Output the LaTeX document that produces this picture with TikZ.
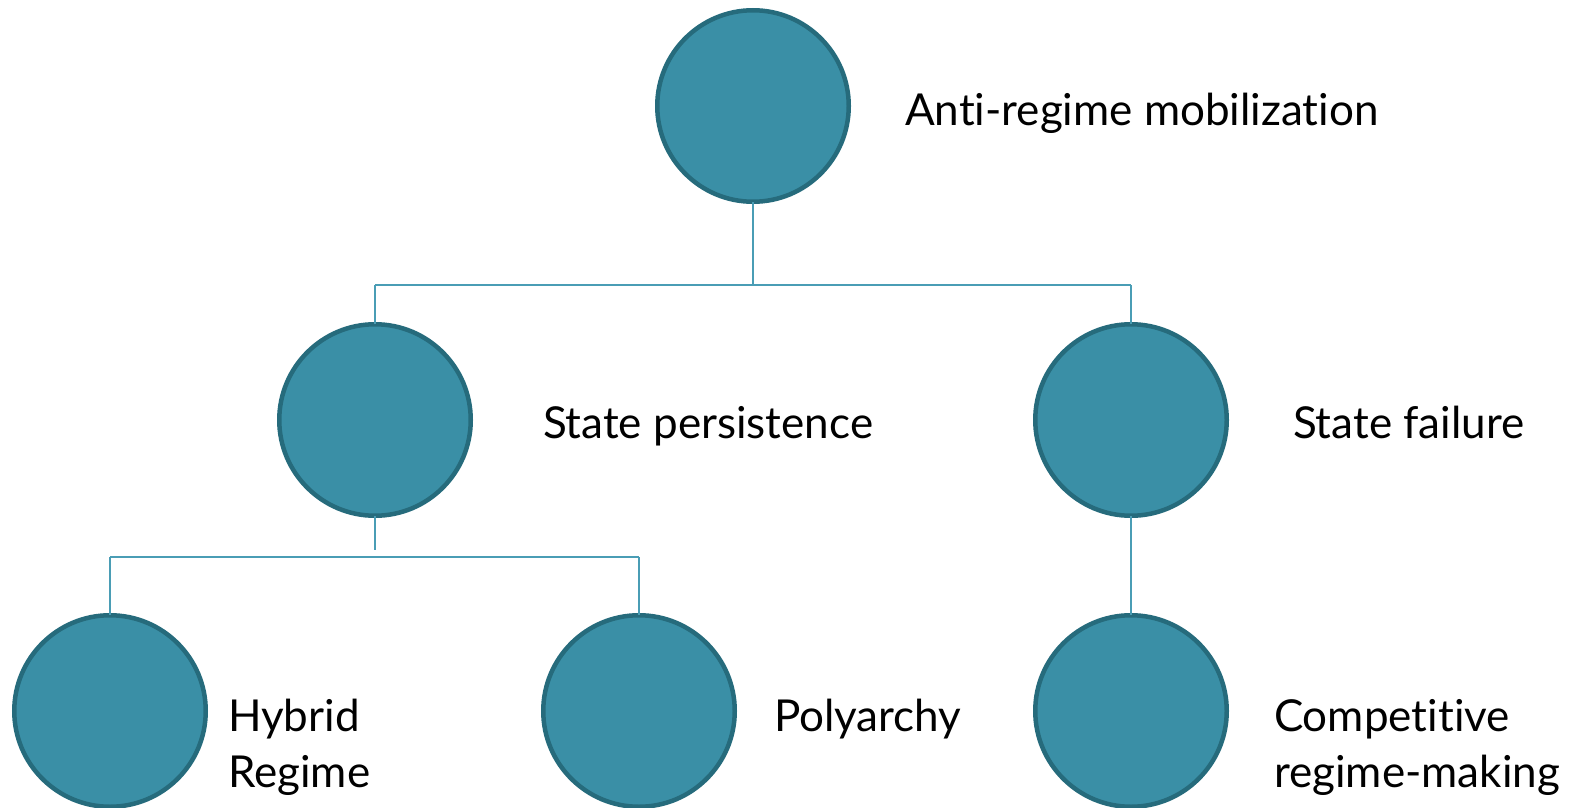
\documentclass[tikz,border=0pt]{standalone}
\usepackage{fontspec}
\setmainfont{Lato}[Ligatures=NoCommon]
\definecolor{bubfill}{HTML}{3A8FA6}
\definecolor{bubedge}{HTML}{266B7C}
\definecolor{connc}{HTML}{4A9DB5}
\begin{document}
\begin{tikzpicture}[x=1pt,y=-1pt,
  bub/.style={circle, draw=bubedge, fill=bubfill, line width=4.5pt, minimum size=191.5pt, inner sep=0pt, outer sep=0pt},
  lbl/.style={anchor=base west, font=\fontsize{44}{56}\selectfont, inner sep=0pt, outer sep=0pt, align=left},
  conn/.style={draw=connc, line width=2.5pt}]
\useasboundingbox (0,0) rectangle (1576,808);
% circles
\node[bub] (top) at (753,106) {};
\node[bub] (sp) at (375,420) {};
\node[bub] (sf) at (1131,420) {};
\node[bub] (hr) at (110,711) {};
\node[bub] (po) at (639,711) {};
\node[bub] (cr) at (1131,711) {};
% labels (multi-line labels: base = last line)
\node[lbl] (ltop) at (905,125) {Anti-regime mobilization};
\node[lbl] (lsp) at (543,438) {State persistence};
\node[lbl] (lsf) at (1293,438) {State failure};
\node[lbl] (lhr) at (228,787) {Hybrid\\Regime};
\node[lbl] (lpo) at (774,731) {Polyarchy};
\node[lbl] (lcr) at (1274,787) {Competitive\\regime-making};
% junction coordinates
\coordinate (j1) at (753,285);
\coordinate (j1l) at (375,285);
\coordinate (j1r) at (1131,285);
\coordinate (j2) at (375,550);
\coordinate (j2l) at (110,557);
\coordinate (j2r) at (639,557);
% connectors
\draw[conn] (top.south) -- (j1);
\draw[conn] (j1l) -- (j1r);
\draw[conn] (j1l) -- (sp.north);
\draw[conn] (j1r) -- (sf.north);
\draw[conn] (sp.south) -- (j2);
\draw[conn] (j2l) -- (j2r);
\draw[conn] (j2l) -- (hr.north);
\draw[conn] (j2r) -- (po.north);
\draw[conn] (sf.south) -- (cr.north);
\end{tikzpicture}
\end{document}
